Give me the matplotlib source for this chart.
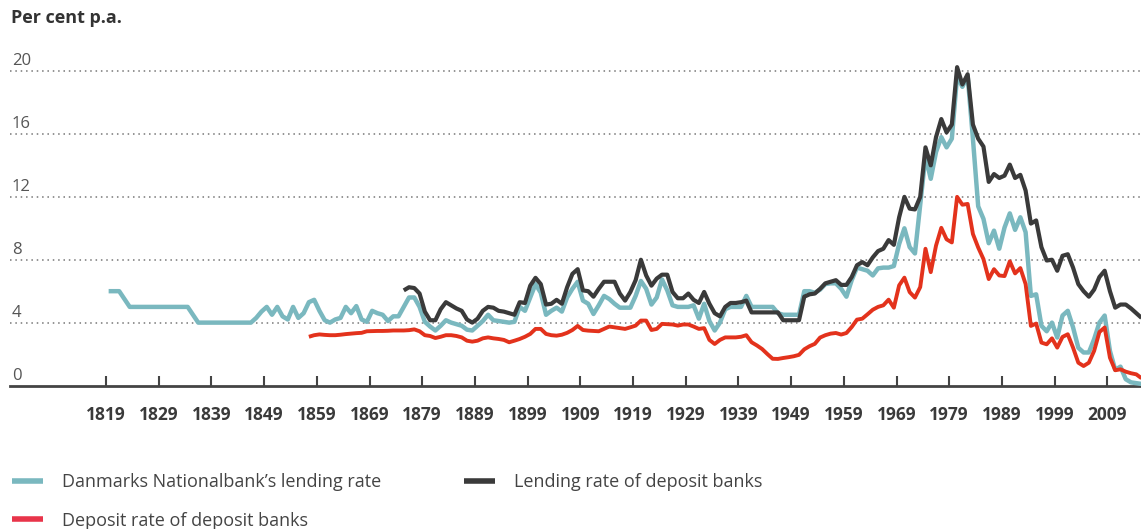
import matplotlib
matplotlib.use("Agg")
import matplotlib.pyplot as plt
import numpy as np

# ---------------- data (per cent p.a., annual) ----------------
years_nb = list(range(1819, 2016))
nb_lending = [
    6.0, 6.0, 6.0, 5.5, 5.0, 5.0, 5.0, 5.0, 5.0, 5.0,            # 1819-1828
    5.0, 5.0, 5.0, 5.0, 5.0, 5.0, 4.5, 4.0, 4.0, 4.0,            # 1829-1838
    4.0, 4.0, 4.0, 4.0, 4.0, 4.0, 4.0, 4.0, 4.3, 4.7,            # 1839-1848
    5.0, 4.5, 5.0, 4.4, 4.2, 5.0, 4.3, 4.6, 5.3, 5.45,           # 1849-1858
    4.75, 4.15, 4.0, 4.2, 4.3, 5.0, 4.6, 5.05, 4.2, 4.05,        # 1859-1868
    4.75, 4.6, 4.5, 4.1, 4.4, 4.4, 5.0, 5.6, 5.6, 5.0,           # 1869-1878
    4.05, 3.75, 3.5, 3.8, 4.15, 4.0, 3.9, 3.8, 3.55, 3.5,        # 1879-1888
    3.8, 4.1, 4.5, 4.15, 4.1, 4.05, 4.0, 4.05, 5.0, 4.75,        # 1889-1898
    5.6, 6.45, 5.9, 4.5, 4.75, 4.95, 4.7, 5.6, 6.15, 6.6,        # 1899-1908
    5.4, 5.2, 4.55, 5.1, 5.7, 5.5, 5.2, 4.95, 4.95, 4.95,        # 1909-1918
    5.7, 6.65, 6.15, 5.15, 5.6, 6.75, 6.05, 5.1, 5.0, 5.0,       # 1919-1928
    5.0, 5.1, 4.25, 5.2, 4.1, 3.5, 4.0, 4.85, 5.0, 5.0,          # 1929-1938
    5.0, 5.7, 5.0, 5.0, 5.0, 5.0, 5.0, 4.6, 4.5, 4.5,            # 1939-1948
    4.5, 4.5, 6.0, 6.0, 5.9, 6.1, 6.45, 6.5, 6.5, 6.15,          # 1949-1958
    5.65, 6.7, 7.5, 7.4, 7.3, 7.0, 7.45, 7.5, 7.5, 7.6,          # 1959-1968
    9.0, 10.0, 8.8, 8.4, 11.5, 14.6, 13.15, 14.85, 15.8, 15.15,  # 1969-1978
    15.7, 19.7, 19.0, 19.7, 15.7, 11.4, 10.6, 9.05, 9.85, 8.7,   # 1979-1988
    10.05, 10.95, 9.9, 10.7, 9.75, 5.7, 5.8, 3.8, 3.45, 4.0,     # 1989-1998
    3.05, 4.45, 4.75, 3.7, 2.4, 2.1, 2.1, 2.95, 4.0, 4.45,       # 1999-2008
    2.2, 1.0, 1.2, 0.4, 0.2, 0.15, 0.1,                          # 2009-2015
]

years_lend = list(range(1875, 2016))
bank_lending = [
    6.05, 6.25, 6.2, 5.85, 4.7, 4.15, 4.15, 4.85, 5.3, 5.1,      # 1875-1884
    4.9, 4.75, 4.2, 4.0, 4.25, 4.75, 5.0, 4.95, 4.75, 4.7,       # 1885-1894
    4.6, 4.5, 5.3, 5.25, 6.35, 6.85, 6.45, 5.15, 5.2, 5.45,      # 1895-1904
    5.2, 6.25, 7.1, 7.4, 6.05, 6.0, 5.65, 6.15, 6.6, 6.6,        # 1905-1914
    6.6, 5.85, 5.4, 5.95, 6.7, 8.0, 7.0, 6.35, 6.8, 7.05,        # 1915-1924
    7.05, 5.95, 5.55, 5.55, 5.85, 5.45, 5.25, 5.95, 5.2, 4.6,    # 1925-1934
    4.4, 5.0, 5.25, 5.25, 5.3, 5.4, 4.65, 4.65, 4.65, 4.65,      # 1935-1944
    4.65, 4.65, 4.15, 4.15, 4.15, 4.15, 5.65, 5.8, 5.85, 6.15,   # 1945-1954
    6.5, 6.6, 6.7, 6.4, 6.4, 6.9, 7.65, 7.85, 7.65, 8.15,        # 1955-1964
    8.55, 8.7, 9.25, 8.95, 10.7, 12.0, 11.25, 11.2, 12.0, 15.15, # 1965-1974
    14.0, 15.8, 16.95, 16.1, 16.6, 20.25, 19.15, 19.8, 16.6, 15.7, # 1975-1984
    15.2, 12.95, 13.45, 13.2, 13.35, 14.05, 13.2, 13.4, 12.4, 10.3, # 1985-1994
    10.5, 8.8, 7.95, 8.0, 7.3, 8.25, 8.35, 7.5, 6.45, 6.0,       # 1995-2004
    5.65, 6.1, 6.9, 7.3, 6.0, 4.95, 5.15, 5.15, 4.9, 4.6,        # 2005-2014
    4.3,                                                         # 2015
]

years_dep = list(range(1857, 2016))
bank_deposit = [
    3.1, 3.2, 3.25, 3.22, 3.2, 3.2, 3.23, 3.27, 3.3, 3.33,       # 1857-1866
    3.35, 3.45, 3.46, 3.47, 3.47, 3.48, 3.5, 3.5, 3.5, 3.52,     # 1867-1876
    3.57, 3.45, 3.2, 3.15, 3.02, 3.1, 3.2, 3.2, 3.15, 3.06,      # 1877-1886
    2.85, 2.79, 2.85, 3.0, 3.06, 3.0, 2.96, 2.9, 2.75, 2.85,     # 1887-1896
    2.96, 3.1, 3.28, 3.6, 3.6, 3.28, 3.2, 3.17, 3.23, 3.35,      # 1897-1906
    3.53, 3.79, 3.53, 3.49, 3.47, 3.45, 3.6, 3.75, 3.7, 3.65,    # 1907-1916
    3.6, 3.7, 3.81, 4.13, 4.13, 3.53, 3.6, 3.92, 3.9, 3.88,      # 1917-1926
    3.81, 3.88, 3.88, 3.75, 3.6, 3.65, 2.9, 2.64, 2.9, 3.06,     # 1927-1936
    3.06, 3.06, 3.1, 3.2, 2.75, 2.55, 2.32, 2.0, 1.7, 1.69,      # 1937-1946
    1.75, 1.8, 1.86, 1.95, 2.3, 2.5, 2.65, 3.05, 3.2, 3.3,       # 1947-1956
    3.34, 3.24, 3.34, 3.72, 4.19, 4.25, 4.53, 4.82, 5.0, 5.1,    # 1957-1966
    5.46, 4.95, 6.37, 6.86, 5.94, 5.59, 6.26, 8.7, 7.21, 8.9,    # 1967-1976
    10.03, 9.3, 9.1, 12.0, 11.5, 11.55, 9.64, 8.78, 8.04, 6.77,  # 1977-1986
    7.4, 7.0, 6.96, 7.9, 7.13, 7.47, 6.45, 3.79, 3.94, 2.73,     # 1987-1996
    2.62, 3.0, 2.41, 3.09, 3.26, 2.41, 1.45, 1.24, 1.45, 2.2,    # 1997-2006
    3.4, 3.69, 1.77, 0.97, 1.03, 0.88, 0.78, 0.71, 0.46,         # 2007-2015
]

tick_years = list(range(1819, 2010, 10))
y_ticks = [0, 4, 8, 12, 16, 20]
series_labels = ["Danmarks Nationalbank\u2019s lending rate",
                 "Deposit rate of deposit banks",
                 "Lending rate of deposit banks"]
title = "Per cent p.a."

# ---------------- styling ----------------
C_TEAL = "#7ab8bf"
C_DARK = "#3a3a3a"
C_RED = "#e3321c"
C_TEXT = "#333333"

plt.rcParams["font.family"] = ["Open Sans", "DejaVu Sans"]

W, H = 1141, 529
fig = plt.figure(figsize=(W / 100, H / 100), dpi=100)

# axes: x from px 10 to 1141, y=0 at px 385.5, 15.72 px per unit
y0_px = 385.5
ppu = 15.72
ytop = 22.0
ax_bottom = 1 - y0_px / H
ax_height = ytop * ppu / H
ax = fig.add_axes([10 / W, ax_bottom, 1 - 10 / W, ax_height])

off = 0.5  # annual values plotted mid-year
l_teal, = ax.plot(np.array(years_nb) + off, nb_lending, color=C_TEAL, lw=3.2,
                  solid_joinstyle="round", solid_capstyle="butt", zorder=3)
l_dark, = ax.plot(np.array(years_lend) + off, bank_lending, color=C_DARK, lw=3.0,
                  solid_joinstyle="round", solid_capstyle="butt", zorder=4)
l_red, = ax.plot(np.array(years_dep) + off, bank_deposit, color=C_RED, lw=2.8,
                 solid_joinstyle="round", solid_capstyle="butt", zorder=5)

px_per_year = 5.27
x_left = 1819 - 96 / px_per_year
x_right = x_left + (W - 10) / px_per_year
ax.set_xlim(x_left, x_right)
ax.set_ylim(0, ytop)

for s in ["top", "right", "left"]:
    ax.spines[s].set_visible(False)
ax.spines["bottom"].set_color("#444444")
ax.spines["bottom"].set_linewidth(2.0)

ax.set_xticks(tick_years)
ax.set_xticklabels([str(y) for y in tick_years], fontsize=12.5,
                   fontweight="bold", color="#3a3a3a")
ax.tick_params(axis="x", direction="in", length=7, width=1.5,
               color="#444444", pad=15)
ax.set_yticks([])

for v in y_ticks:
    if v > 0:
        ax.axhline(v, color="#777777", lw=1.1, ls=(0, (1, 2.5)), zorder=1)
    ax.annotate(str(v), xy=(0, v), xycoords=("axes fraction", "data"),
                xytext=(2, 6), textcoords="offset pixels", ha="left",
                va="baseline", fontsize=12, color="#555555")

fig.text(11 / W, 1 - 18 / H, title, fontsize=13, fontweight="bold",
         color=C_TEXT, ha="left", va="center")

leg = fig.legend([l_teal, l_red, l_dark], series_labels, ncol=2,
                 loc="upper left", bbox_to_anchor=(12 / W, 1 - 473 / H),
                 frameon=False, fontsize=13, handlelength=1.72,
                 handletextpad=1.05, columnspacing=4.6, labelspacing=1.15,
                 borderaxespad=0, borderpad=0)
for t in leg.get_texts():
    t.set_color("#444444")
for h in leg.get_lines():
    h.set_linewidth(4)
leg.get_lines()[1].set_color("#e8344a")

fig.savefig("out.png", dpi=100)
